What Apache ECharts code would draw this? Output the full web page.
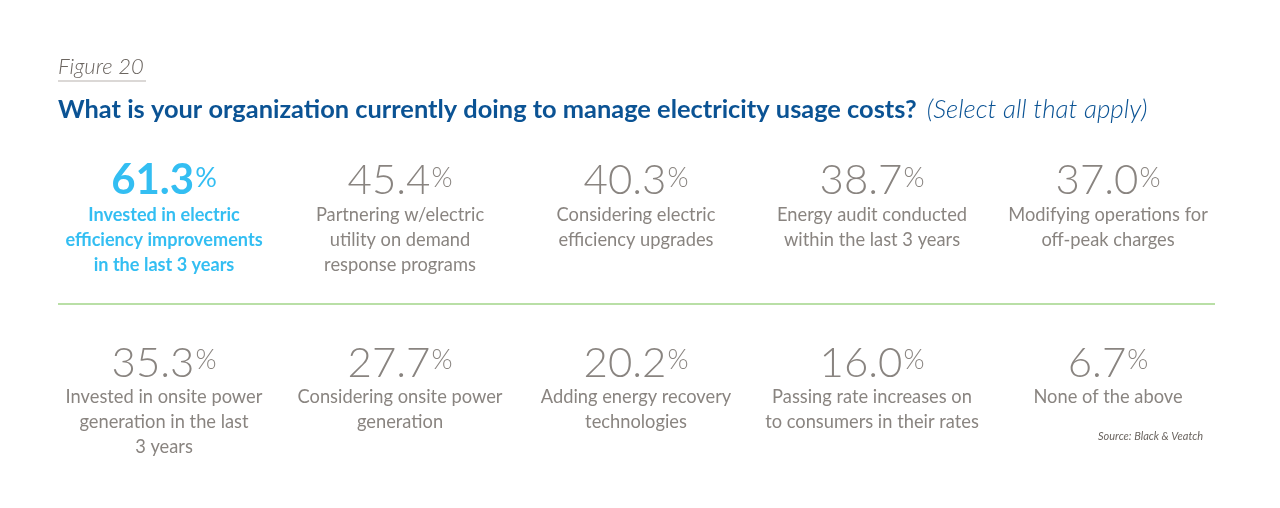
<!DOCTYPE html>
<html>
<head>
<meta charset="utf-8">
<script src="https://cdn.jsdelivr.net/npm/echarts@6/dist/echarts.min.js"></script>
<style>
html, body { margin: 0; padding: 0; background: #fff; }
#main { width: 1280px; height: 508px; }
</style>
</head>
<body>
<div id="main"></div>
<script>
// answers, in reading order (row 1 then row 2)
var answers = [
	"Invested in electric\nefficiency improvements\nin the last 3 years",
	"Partnering w/electric\nutility on demand\nresponse programs",
	"Considering electric\nefficiency upgrades",
	"Energy audit conducted\nwithin the last 3 years",
	"Modifying operations for\noff-peak charges",
	"Invested in onsite power\ngeneration in the last\n3 years",
	"Considering onsite power\ngeneration",
	"Adding energy recovery\ntechnologies",
	"Passing rate increases on\nto consumers in their rates",
	"None of the above"
];
var percents = [61.3, 45.4, 40.3, 38.7, 37.0, 35.3, 27.7, 20.2, 16.0, 6.7];
var columns = ["c1", "c2", "c3", "c4", "c5"];
var highlight = 0;

var grey = "#6b6560";
var blue = "#00aeef";

function labelText(i) {
	var lines = answers[i].split("\n");
	var tag = (i == highlight) ? "hl" : "lab";
	var numTag = (i == highlight) ? "hnum" : "num";
	var pctTag = (i == highlight) ? "hpct" : "pct";
	var s = "{" + numTag + "|" + percents[i].toFixed(1) + "}{" + pctTag + "|%}";
	for (var k = 0; k < lines.length; k++) {
		s += "\n{" + tag + "|" + lines[k] + "}";
	}
	return s;
}

var points = [];
for (var i = 0; i < percents.length; i++) {
	points.push({
		value: [columns[i % 5], Math.floor(i / 5)],
		label: { formatter: labelText(i) }
	});
}

var myChart = echarts.init(document.getElementById('main'));
var option = {
	backgroundColor: '#fff',
	animation: false,
	title: [{
		text: 'Figure 20',
		left: 58,
		top: 56,
		padding: 0,
		textStyle: {
			color: '#6b6560',
			fontFamily: 'Lato',
			fontStyle: 'italic',
			fontWeight: 300,
			fontSize: 22
		}
	}, {
		text: '{b|What is your organization currently doing to manage electricity usage costs?}  {i|(Select all that apply)}',
		left: 58,
		top: 97,
		padding: 0,
		textStyle: {
			rich: {
				b: { color: '#0b5394', fontFamily: 'Lato', fontWeight: 'bold', fontSize: 25.4 },
				i: { color: '#0b5394', fontFamily: 'Lato', fontStyle: 'italic', fontWeight: 300, fontSize: 26 }
			}
		}
	}, {
		text: 'Source: Black & Veatch',
		right: 77,
		top: 431,
		padding: 0,
		textStyle: {
			color: '#6b6560',
			fontFamily: 'Lato',
			fontStyle: 'italic',
			fontWeight: 'normal',
			fontSize: 11
		}
	}],
	graphic: [{
		type: 'line',
		shape: { x1: 58, y1: 81, x2: 146, y2: 81 },
		style: { stroke: '#cfcbc8', lineWidth: 1.5 }
	}, {
		type: 'line',
		shape: { x1: 58, y1: 304, x2: 1215, y2: 304 },
		style: { stroke: '#b9dfa6', lineWidth: 2 }
	}],
	grid: { left: 46, right: 54, top: 158, bottom: 167.5 },
	xAxis: {
		type: 'category',
		data: columns,
		show: false
	},
	yAxis: {
		type: 'value',
		min: 0,
		max: 1,
		inverse: true,
		show: false
	},
	series: [{
		type: 'scatter',
		symbolSize: 1,
		itemStyle: { color: 'rgba(0,0,0,0)' },
		label: {
			show: true,
			position: 'bottom',
			distance: 0,
			align: 'center',
			rich: {
				num: { color: grey, fontFamily: 'Lato', fontWeight: 300, fontSize: 42, lineHeight: 44 },
				pct: { color: grey, fontFamily: 'Lato', fontWeight: 300, fontSize: 27, lineHeight: 44, padding: [0, 0, 5, 1] },
				hnum: { color: blue, fontFamily: 'Lato', fontWeight: 'bold', fontSize: 42, lineHeight: 44 },
				hpct: { color: blue, fontFamily: 'Lato', fontWeight: 'normal', fontSize: 27, lineHeight: 44, padding: [0, 0, 5, 1] },
				lab: { color: grey, fontFamily: 'Lato', fontWeight: 'normal', fontSize: 18.3, lineHeight: 25, align: 'center' },
				hl: { color: blue, fontFamily: 'Lato', fontWeight: 'bold', fontSize: 18.1, lineHeight: 25, align: 'center' }
			}
		},
		data: points
	}]
};
myChart.setOption(option);
</script>
</body>
</html>
